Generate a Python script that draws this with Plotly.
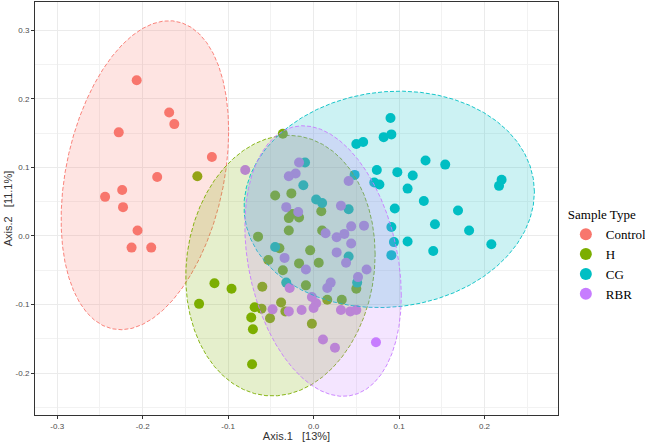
import numpy as np
import plotly.graph_objects as go

# ---- data ----
groups = ["Control", "H", "CG", "RBR"]
colors = ["#F8766D", "#7CAE00", "#00BFC4", "#C77CFF"]

control_x = [-0.207, -0.169, -0.163, -0.228, -0.119, -0.183, -0.224, -0.244, -0.223, -0.206, -0.213, -0.190]
control_y = [0.227, 0.180, 0.163, 0.151, 0.115, 0.086, 0.067, 0.057, 0.042, 0.008, -0.017, -0.017]

h_x = [-0.036, -0.136, -0.045, -0.026, -0.029, -0.017, -0.025, 0.009, -0.029, 0.010,
       -0.065, -0.040, -0.004, -0.053, -0.017, 0.006, -0.036, -0.009, -0.060, -0.116,
       -0.096, 0.050, -0.134, -0.069, -0.061, -0.038, -0.033, 0.016, 0.033, -0.073,
       -0.051, -0.071, -0.002, -0.072]
h_y = [0.149, 0.087, 0.059, 0.062, 0.026, 0.027, 0.032, 0.036, 0.008, 0.008,
       -0.001, -0.018, -0.021, -0.035, -0.040, -0.039, -0.050, -0.072, -0.074, -0.069,
       -0.077, -0.077, -0.099, -0.104, -0.106, -0.097, -0.110, -0.093, -0.093, -0.119,
       -0.120, -0.136, -0.128, -0.187]

cg_x = [0.090, 0.091, 0.082, 0.050, 0.058, -0.010, 0.074, 0.098, 0.116, 0.131,
        0.154, 0.220, 0.217, 0.048, 0.071, 0.077, -0.012, 0.110, 0.003, 0.010,
        0.041, 0.095, 0.129, 0.169, 0.142, 0.182, 0.091, 0.094, 0.110, 0.208,
        0.140, 0.091, 0.041, -0.045, -0.032, 0.051]
cg_y = [0.172, 0.148, 0.144, 0.134, 0.137, 0.107, 0.096, 0.093, 0.088, 0.110,
        0.104, 0.082, 0.073, 0.089, 0.078, 0.075, 0.074, 0.069, 0.053, 0.048,
        0.039, 0.040, 0.051, 0.037, 0.017, 0.008, 0.013, -0.009, -0.008, -0.012,
        -0.022, -0.028, -0.030, -0.016, -0.068, -0.068]

rbr_x = [-0.080, -0.017, -0.021, -0.029, 0.041, -0.032, -0.018, 0.032, 0.044, 0.059,
         0.014, 0.027, 0.036, 0.044, -0.034, 0.027, 0.038, -0.009, 0.062, 0.020,
         0.016, 0.052, -0.028, -0.002, 0.003, 0.000, -0.048, -0.029, -0.014, 0.032,
         0.043, 0.050, 0.011, 0.025, 0.073]
rbr_y = [0.096, 0.107, 0.091, 0.087, 0.080, 0.042, 0.035, 0.044, 0.014, 0.015,
         0.004, -0.002, 0.003, -0.011, -0.032, -0.024, -0.039, -0.049, -0.049, -0.068,
         -0.076, -0.060, -0.076, -0.089, -0.098, -0.105, -0.107, -0.110, -0.108, -0.108,
         -0.110, -0.108, -0.151, -0.163, -0.155]

xs = [control_x, h_x, cg_x, rbr_x]
ys = [control_y, h_y, cg_y, rbr_y]

x_ticks = [-0.3, -0.2, -0.1, 0.0, 0.1, 0.2]
x_labels = ["-0.3", "-0.2", "-0.1", "0.0", "0.1", "0.2"]
y_ticks = [-0.2, -0.1, 0.0, 0.1, 0.2, 0.3]
y_labels = ["-0.2", "-0.1", "0.0", "0.1", "0.2", "0.3"]


# ---- ggplot2 stat_ellipse, type = "norm", level = 0.95 ----
def ellipse(xv, yv, level=0.95, segments=51):
    X = np.column_stack([xv, yv])
    n = X.shape[0]
    center = X.mean(axis=0)
    shape = np.cov(X, rowvar=False)
    dfn, dfd = 2, n - 1
    fq = (dfd / 2.0) * ((1 - level) ** (-2.0 / dfd) - 1)  # qf(level, 2, dfd)
    radius = np.sqrt(dfn * fq)
    R = np.linalg.cholesky(shape).T
    ang = np.arange(segments + 1) * 2 * np.pi / segments
    circ = np.column_stack([np.cos(ang), np.sin(ang)])
    e = center + radius * (circ @ R)
    return e[:, 0], e[:, 1]


def rgba(hexc, a):
    h = hexc.lstrip("#")
    return "rgba(%d,%d,%d,%.2f)" % (int(h[0:2], 16), int(h[2:4], 16), int(h[4:6], 16), a)


fig = go.Figure()

for g, c, xv, yv in zip(groups, colors, xs, ys):
    fig.add_trace(go.Scatter(
        x=xv, y=yv, mode="markers", name=g,
        marker=dict(color=c, size=10, line=dict(width=0)),
    ))

for g, c, xv, yv in zip(groups, colors, xs, ys):
    ex, ey = ellipse(xv, yv)
    fig.add_trace(go.Scatter(
        x=ex, y=ey, mode="lines", fill="toself",
        fillcolor=rgba(c, 0.2),
        line=dict(color=c, width=0.9, dash="4px,2px"),
        showlegend=False, hoverinfo="skip",
    ))

axis_common = dict(
    automargin=False,
    showgrid=True, gridcolor="#EBEBEB", gridwidth=1,
    minor=dict(showgrid=True, gridcolor="#F2F2F2", gridwidth=0.6),
    zeroline=False,
    showline=True, mirror=True, linecolor="#333333", linewidth=1,
    ticks="outside", ticklen=3, tickcolor="#333333", tickwidth=0.6,
    tickfont=dict(family="Liberation Sans", size=8, color="#4D4D4D"),
)

fig.update_xaxes(
    range=[-0.326, 0.286],
    tickvals=x_ticks, ticktext=x_labels,
    minor_dtick=0.05, minor_tick0=0,
    title=dict(text="Axis.1   [13%]", font=dict(family="Liberation Sans", size=11, color="#333333"), standoff=0),
    **axis_common,
)
fig.update_yaxes(
    range=[-0.261, 0.341],
    tickvals=y_ticks, ticktext=y_labels,
    minor_dtick=0.05, minor_tick0=0,
    title=dict(text="Axis.2   [11.1%]", font=dict(family="Liberation Sans", size=11, color="#333333"), standoff=0),
    **axis_common,
)

fig.update_layout(
    width=645, height=442,
    margin=dict(l=35, r=87, t=2, b=27, autoexpand=False),
    paper_bgcolor="white", plot_bgcolor="white",
    legend=dict(
        title=dict(text="Sample Type", font=dict(family="Liberation Serif", size=13, color="black")),
        font=dict(family="Liberation Serif", size=13, color="black"),
        x=1.015, xanchor="left", y=0.515, yanchor="top",
        tracegroupgap=0, itemsizing="constant",
        bgcolor="rgba(0,0,0,0)",
    ),
)

fig.write_html("out.html", config={"displayModeBar": False},
               post_script="document.body.style.margin='0';")
